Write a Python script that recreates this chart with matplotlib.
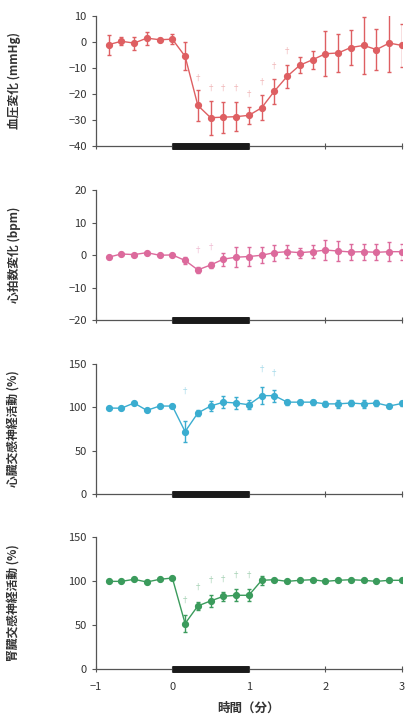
import numpy as np
import matplotlib
matplotlib.use('Agg')
import matplotlib.pyplot as plt

plt.rcParams['font.family'] = ['Noto Sans CJK JP', 'DejaVu Sans']

# 時間（分）: 10秒ごと
t = np.arange(-5, 19) / 6.0

bp = [-1.1, 0.2, -0.5, 1.4, 0.8, 1.0, -5.6, -24.5, -29.2, -29.0, -28.8, -28.3,
      -25.4, -19.0, -13.3, -9.0, -6.9, -4.6, -4.3, -2.2, -1.4, -3.0, -0.5, -1.4]
bp_err = [3.8, 1.5, 2.5, 2.5, 0.5, 2.0, 5.4, 6.0, 6.5, 6.0, 5.5, 3.2,
          4.8, 4.8, 4.5, 3.0, 3.5, 8.6, 7.3, 6.7, 11.0, 8.0, 11.0, 8.3]
bp_sig_x = [7, 8, 9, 10, 11, 12, 13, 14]
bp_sig_y = [-14, -18, -18, -18, -20, -15.5, -9.5, -3.7]

hr = [-0.6, 0.4, 0.2, 0.8, 0.0, 0.1, -1.6, -4.5, -3.0, -1.2, -0.6, -0.4,
      0.0, 0.8, 1.1, 0.8, 1.1, 1.6, 1.3, 1.0, 1.1, 0.9, 1.1, 1.1]
hr_err = [0.5, 0.3, 0.3, 0.3, 0.3, 0.3, 1.0, 1.0, 1.0, 2.0, 3.0, 3.0,
          2.5, 2.5, 2.0, 1.5, 2.0, 3.0, 3.0, 2.5, 2.5, 2.5, 3.0, 2.5]
hr_sig_x = [7, 8]
hr_sig_y = [1.6, 2.4]

csna = [99.2, 99.0, 105.0, 96.5, 101.5, 101.5, 72.0, 93.5, 101.5, 106.0, 105.0, 103.0,
        113.5, 113.5, 106.0, 106.0, 106.0, 104.0, 104.0, 105.0, 104.0, 105.0, 101.5, 104.5]
csna_err = [1.0, 1.0, 1.0, 1.0, 1.0, 1.0, 12.0, 3.0, 6.0, 7.0, 7.0, 5.0,
            10.0, 7.0, 3.0, 3.0, 3.0, 3.0, 5.0, 3.0, 5.0, 3.0, 2.0, 3.0]
csna_sig_x = [6, 12, 13]
csna_sig_y = [118.5, 144, 139.6]

rsna = [99.7, 99.7, 102.0, 99.0, 102.0, 103.5, 51.8, 71.8, 77.5, 82.7, 83.9, 83.9,
        100.9, 101.6, 99.7, 100.9, 101.6, 99.7, 100.9, 101.6, 100.9, 99.7, 100.9, 100.9]
rsna_err = [1.0, 1.0, 1.0, 1.0, 1.0, 1.0, 10.0, 5.0, 7.0, 5.0, 7.0, 7.0,
            5.0, 1.0, 1.0, 1.0, 1.0, 1.0, 1.0, 1.0, 1.0, 1.0, 1.0, 1.0]
rsna_sig_x = [6, 7, 8, 9, 10, 11]
rsna_sig_y = [78, 92.6, 100.9, 102, 107, 107]

panels = [
    (bp, bp_err, bp_sig_x, bp_sig_y, '#de5f62', (-40, 10), [-40, -30, -20, -10, 0, 10],
     '血圧変化 (mmHg)', [0.978, 0.797]),
    (hr, hr_err, hr_sig_x, hr_sig_y, '#dc6a9c', (-20, 20), [-20, -10, 0, 10, 20],
     '心拍数変化 (bpm)', [0.735, 0.554]),
    (csna, csna_err, csna_sig_x, csna_sig_y, '#3badd0', (0, 150), [0, 50, 100, 150],
     '心臓交感神経活動 (%)', [0.493, 0.312]),
    (rsna, rsna_err, rsna_sig_x, rsna_sig_y, '#3b9b5c', (0, 150), [0, 50, 100, 150],
     '腎臓交感神経活動 (%)', [0.252, 0.068]),
]

fig = plt.figure(figsize=(4.06, 7.18), dpi=100)
left, right = 0.236, 0.99
for i, (y, err, sx, sy, col, ylim, yt, lab, (top, bot)) in enumerate(panels):
    ax = fig.add_axes([left, bot, right - left, top - bot])
    ax.errorbar(t, y, yerr=err, color=col, marker='o', ms=4.2, lw=1.0,
                elinewidth=1.0, capsize=1.2, zorder=3)
    for k, v in zip(sx, sy):
        ax.text(t[k], v, '†', color=col, alpha=0.45, fontsize=6,
                ha='center', va='center')
    # 刺激期間バー
    ax.plot([0, 1], [ylim[0], ylim[0]], color='#1a1a1a', lw=5,
            solid_capstyle='butt', zorder=4, clip_on=False)
    ax.set_xlim(-1, 3)
    ax.set_ylim(*ylim)
    ax.set_yticks(yt)
    ax.set_yticklabels([str(v).replace('-', '−') for v in yt])
    ax.set_xticks([-1, 0, 1, 2, 3])
    for s in ['top', 'right']:
        ax.spines[s].set_visible(False)
    for s in ['left', 'bottom']:
        ax.spines[s].set_color('#555555')
        ax.spines[s].set_linewidth(0.9)
    ax.tick_params(axis='both', colors='#555555', labelcolor='#333333',
                   labelsize=8, length=3, width=0.8)
    ax.tick_params(axis='x', direction='inout', length=5, pad=7)
    if i < 3:
        ax.tick_params(axis='x', labelbottom=False)
    else:
        ax.set_xticklabels(['−1', '0', '1', '2', '3'])
        ax.set_xlabel('時間（分）', fontsize=9, color='#333333',
                      fontweight='bold', labelpad=7)
    ax.set_ylabel(lab, fontsize=8.5, color='#333333', fontweight='bold')
    ax.yaxis.set_label_coords(-0.245, 0.5)

fig.savefig('out.png', dpi=100)
